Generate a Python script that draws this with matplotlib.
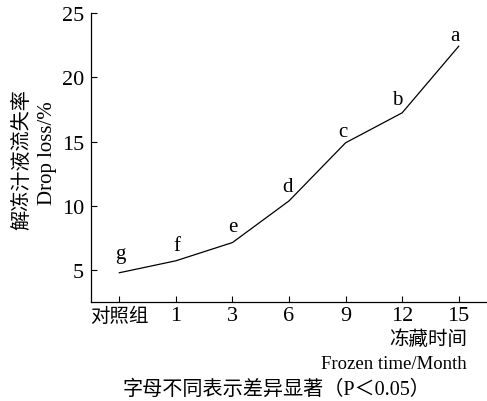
import matplotlib.pyplot as plt

plt.rcParams["font.family"] = ["Liberation Serif", "Noto Sans CJK SC"]

CATEGORIES = ["对照组", "1", "3", "6", "9", "12", "15"]
DROP_LOSS = [4.8, 5.73, 7.15, 10.39, 14.91, 17.24, 22.42]
SIG_LETTERS = ["g", "f", "e", "d", "c", "b", "a"]
Y_TICKS = [5, 10, 15, 20, 25]

fig = plt.figure(figsize=(4.87, 4.02), dpi=100)
ax = fig.add_axes([0.187, 0.2455, 0.813, 0.7195])

x = list(range(len(CATEGORIES)))
ax.plot(x, DROP_LOSS, color="black", linewidth=0.9)

letter_offsets = [(1, 19), (1, 15), (0, 16), (-2, 14), (-3, 11), (-5, 13), (-4, 11)]
for xi, yi, letter, off in zip(x, DROP_LOSS, SIG_LETTERS, letter_offsets):
    ax.annotate(letter, (xi, yi), xytext=off, textcoords="offset pixels",
                ha="center", va="center", fontsize=15)

ax.set_xlim(-0.5, 6.5)
ax.set_ylim(2.5, 25)
ax.set_xticks(x)
ax.set_xticklabels(CATEGORIES)
ax.set_yticks(Y_TICKS)
ax.tick_params(direction="in", length=4.5, width=0.8, labelsize=16, pad=3)
ax.tick_params(axis="y", pad=5)
ax.get_xticklabels()[0].set_fontsize(14)

for side in ("top", "right"):
    ax.spines[side].set_visible(False)
for side in ("left", "bottom"):
    ax.spines[side].set_linewidth(0.9)

fig.text(0.047, 0.602, "解冻汁液流失率", rotation=90, ha="center", va="center", fontsize=14.5)
fig.text(0.097, 0.62, "Drop loss/%", rotation=90, ha="center", va="center", fontsize=15)

fig.text(0.959, 1 - 340 / 402, "冻藏时间", ha="right", va="center", fontsize=14)
fig.text(0.959, 1 - 365 / 402, "Frozen time/Month", ha="right", va="center", fontsize=13.5)
fig.text(0.567, 1 - 390 / 402, "字母不同表示差异显著（P＜0.05）", ha="center", va="center", fontsize=14.5)

fig.savefig("out.png", dpi=100)
